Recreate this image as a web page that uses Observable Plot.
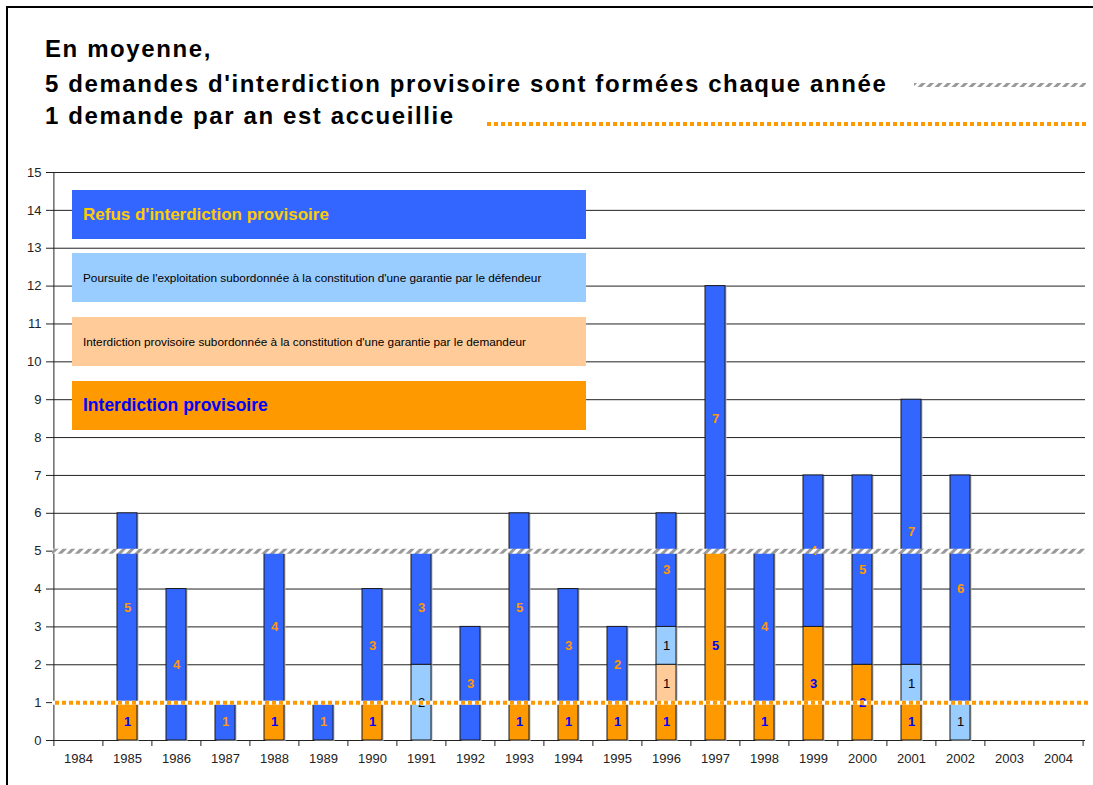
<!DOCTYPE html>
<html>
<head>
<meta charset="utf-8">
<script src="https://cdn.jsdelivr.net/npm/d3@7"></script>
<script src="https://cdn.jsdelivr.net/npm/@observablehq/plot@0.6"></script>
<style>
  body { margin: 0; background: #fff; font-family: "Liberation Sans", Arial, sans-serif; }
  #frame { position: absolute; left: 6px; top: 6px; width: 1200px; height: 900px; border-left: 2px solid #000; border-top: 2px solid #000; }
  .tl { position: absolute; left: 45px; font: bold 24px "Liberation Sans", Arial, sans-serif; letter-spacing: 1.6px; color: #000; white-space: nowrap; line-height: 28px; }
  .lg { position: absolute; left: 72px; width: 514px; height: 49px; display: flex; align-items: center; box-sizing: border-box; padding-left: 11px; white-space: nowrap; }
  #chart { position: absolute; left: 0; top: 0; }
</style>
</head>
<body>
<div id="frame"></div>
<div class="tl" style="top:35px">En moyenne,</div>
<div class="tl" style="top:70px">5 demandes d'interdiction provisoire sont formées chaque année</div>
<div class="tl" style="top:102px">1 demande par an est accueillie</div>
<svg style="position:absolute;left:914px;top:82px" width="172" height="6">
  <defs><pattern id="hatchT" patternUnits="userSpaceOnUse" width="6" height="6" patternTransform="rotate(45)">
    <rect width="6" height="6" fill="#fff"/><rect width="3" height="6" fill="#999"/></pattern></defs>
  <rect x="0" y="1" width="172" height="4" fill="url(#hatchT)"/>
</svg>
<svg style="position:absolute;left:487px;top:121px" width="599" height="6">
  <line x1="0" x2="599" y1="3" y2="3" stroke="#FF9900" stroke-width="4" stroke-dasharray="4,3"/>
</svg>
<div id="chart"></div>
<div class="lg" style="top:190px;background:#3366FF;color:#FFCC00;font-weight:bold;font-size:17px">Refus d'interdiction provisoire</div>
<div class="lg" style="top:253px;background:#99CCFF;color:#000;font-size:11.8px">Poursuite de l'exploitation subordonnée à la constitution d'une garantie par le défendeur</div>
<div class="lg" style="top:317px;background:#FFCC99;color:#000;font-size:11.8px">Interdiction provisoire subordonnée à la constitution d'une garantie par le demandeur</div>
<div class="lg" style="top:381px;background:#FF9900;color:#0000FF;font-weight:bold;font-size:17.5px">Interdiction provisoire</div>
<script>
const years = ["1984","1985","1986","1987","1988","1989","1990","1991","1992","1993","1994","1995","1996","1997","1998","1999","2000","2001","2002","2003","2004"];
const seriesNames = [
  "Interdiction provisoire",
  "Interdiction provisoire subordonnée à la constitution d'une garantie par le demandeur",
  "Poursuite de l'exploitation subordonnée à la constitution d'une garantie par le défendeur",
  "Refus d'interdiction provisoire"
];
const interdiction      = [0,1,0,0,1,0,1,0,0,1,1,1,1,5,1,3,2,1,0,0,0];
const garantieDemandeur = [0,0,0,0,0,0,0,0,0,0,0,0,1,0,0,0,0,0,0,0,0];
const garantieDefendeur = [0,0,0,0,0,0,0,2,0,0,0,0,1,0,0,0,0,1,1,0,0];
const refus             = [0,5,4,1,4,1,3,3,3,5,3,2,3,7,4,4,5,7,6,0,0];
const seriesValues = [interdiction, garantieDemandeur, garantieDefendeur, refus];
const barColors = ["#FF9900", "#FFCC99", "#99CCFF", "#3366FF"];
const labelColors = ["#0000FF", "#000000", "#000000", "#FF9900"];
const moyenneDemandes = 5;
const moyenneAccueillies = 1;
const yTicks = d3.range(0, 16);

const rows = [];
seriesNames.forEach((s, si) => {
  years.forEach((y, yi) => {
    rows.push({year: y, series: s, si, value: seriesValues[si][yi]});
  });
});

const W = 1093, H = 785;
const mL = 52, mR = 8, mT = 172, mB = 45;
const xOpts = {type: "band", domain: years, range: [mL, W - mR], paddingInner: 0.59, paddingOuter: 0.295};
const step = Plot.scale({x: xOpts}).step;

const stackOpts = {x: "year", y: "value", z: "series", text: d => String(d.value), fill: d => labelColors[d.si]};

const plot = Plot.plot({
  width: W, height: H,
  marginLeft: mL, marginRight: mR, marginTop: mT, marginBottom: mB,
  style: {fontFamily: "'Liberation Sans', Arial, sans-serif", fontSize: "13px", color: "#222", background: "transparent"},
  x: {domain: years, paddingInner: 0.59, paddingOuter: 0.295, label: null},
  y: {domain: [0, 15], label: null},
  color: {type: "identity"},
  marks: [
    Plot.gridY({ticks: d3.range(1, 16), stroke: "#222", strokeOpacity: 1, strokeWidth: 1}),
    Plot.axisY({ticks: yTicks, tickSize: 6, tickPadding: 5, tickFormat: d => String(d), stroke: "#222", fill: "#222", fontSize: 13}),
    Plot.axisX({tickSize: 0, tickPadding: 13, fill: "#222", fontSize: 13}),
    Plot.axisX({tickSize: 6, tickFormat: () => "", dx: -step / 2, stroke: "#222"}),
    Plot.axisX({ticks: [years[years.length - 1]], tickSize: 6, tickFormat: () => "", dx: step / 2, stroke: "#222"}),
    Plot.ruleX([years[0]], {dx: -step / 2, stroke: "#222"}),
    Plot.ruleY([0], {stroke: "#222"}),
    Plot.barY(rows.filter(d => d.value > 0), Plot.stackY({x: "year", y: "value", z: "series", fill: "#bbb", dx: 1.5, dy: 1, stroke: "none"})),
    Plot.barY(rows, Plot.stackY({x: "year", y: "value", z: "series", fill: d => barColors[d.si], stroke: "#1a1a1a", strokeWidth: 1})),
    Plot.text(rows, Plot.filter(d => d.value > 0 && (d.si === 0 || d.si === 3), Plot.stackY({...stackOpts, fontWeight: "bold", fontSize: 13}))),
    Plot.text(rows, Plot.filter(d => d.value > 0 && (d.si === 1 || d.si === 2), Plot.stackY({...stackOpts, fontSize: 13}))),
    Plot.ruleY([moyenneDemandes], {stroke: "url(#hatch)", strokeWidth: 5}),
    Plot.ruleY([moyenneAccueillies], {stroke: "#fff", strokeWidth: 4}),
    Plot.ruleY([moyenneAccueillies], {stroke: "#FF9900", strokeWidth: 4, strokeDasharray: "4,3", dx: 3})
  ]
});

d3.select(plot).insert("defs", ":first-child").html(
  '<pattern id="hatch" patternUnits="userSpaceOnUse" width="6" height="6" patternTransform="rotate(45)">' +
  '<rect width="6" height="6" fill="#fff"/><rect width="3" height="6" fill="#999"/></pattern>'
);
document.getElementById("chart").appendChild(plot);
</script>
</body>
</html>
